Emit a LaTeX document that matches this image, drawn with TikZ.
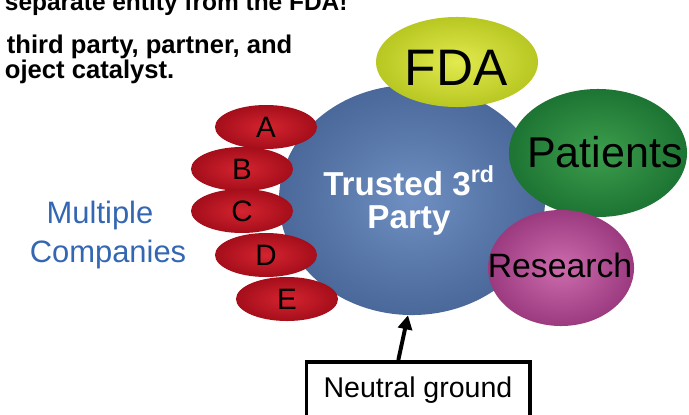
\documentclass[tikz,border=0pt]{standalone}
\usepackage{fontspec}
\setmainfont{Liberation Sans}
\usetikzlibrary{shapes.geometric,arrows.meta}
\definecolor{partyin}{HTML}{6F8FC2}
\definecolor{partyout}{HTML}{4A6899}
\definecolor{fdain}{HTML}{E2EA4E}
\definecolor{fdaout}{HTML}{B8C722}
\definecolor{patin}{HTML}{3C9E4C}
\definecolor{patout}{HTML}{1D7433}
\definecolor{resin}{HTML}{CC6CAC}
\definecolor{resout}{HTML}{9C3A80}
\definecolor{redin}{HTML}{D42430}
\definecolor{redout}{HTML}{A40E1A}
\definecolor{compblue}{HTML}{3467B2}

\begin{document}
\begin{tikzpicture}[x=0.025cm, y=-0.025cm,
  blob/.style={ellipse, inner sep=0pt},
  company/.style={blob, minimum width=2.55cm, minimum height=1.1cm,
    inner color=redin, outer color=redout, font=\fontsize{21}{21}\selectfont},
  headline/.style={anchor=base west, font=\bfseries\fontsize{18.2}{18.2}\selectfont}]
\useasboundingbox (0,0) rectangle (689,414);
\clip (0,0) rectangle (689,414);

% Slide text, cut off at the top
\node[headline, font=\bfseries\fontsize{17.4}{17.4}\selectfont] (line1) at (0,10) {separate entity from the FDA!};
\node[headline] (line2) at (2,53) {third party, partner, and};
\node[headline] (line3) at (0,78) {oject catalyst.};

% Trusted 3rd party in the middle
\node[blob, minimum width=6.65cm, minimum height=5.75cm, inner color=partyin, outer color=partyout] (party) at (412,200) {};
\node[anchor=base, text=white, font=\bfseries\fontsize{23.6}{23.6}\selectfont] (trusted) at (409,195) {Trusted 3\textsuperscript{rd}};
\node[anchor=base, text=white, font=\bfseries\fontsize{23.6}{23.6}\selectfont] (partytxt) at (409,228) {Party};

% Companies A to E
\foreach \l/\x/\y in {A/266/127, B/242/169, C/242/211, D/266/255, E/287/299} {
    \node[company] (co\l) at (\x,\y) {\l};
}
\node[anchor=base, text=compblue, font=\fontsize{22}{22}\selectfont] (multiple) at (100,223) {Multiple};
\node[anchor=base, text=compblue, font=\fontsize{22}{22}\selectfont] (companies) at (108,262) {Companies};

% FDA, patients, research
\node[blob, minimum width=4.05cm, minimum height=2.25cm, inner color=fdain, outer color=fdaout] (fda) at (457,62) {};
\node[anchor=base, font=\fontsize{36.5}{36.5}\selectfont] (fdatxt) at (456,85) {FDA};
\node[blob, minimum width=4.45cm, minimum height=3.2cm, inner color=patin, outer color=patout] (patients) at (598,153) {};
\node[anchor=base, font=\fontsize{30.6}{30.6}\selectfont] (pattxt) at (605,167) {Patients};
\node[blob, minimum width=3.65cm, minimum height=2.9cm, inner color=resin, outer color=resout] (research) at (561,268) {};
\node[anchor=base, font=\fontsize{24}{24}\selectfont] (restxt) at (560,277) {Research};

% Neutral ground
\node[draw, line width=2.8pt, fill=white, minimum width=5.575cm, minimum height=1.4cm,
  font=\fontsize{20.3}{20.3}\selectfont] (ground) at (418,390) {Neutral ground};
\draw[line width=2.8pt, -{Triangle[length=10pt, width=10pt]}] ([xshift=-14pt]ground.north) -- (party.268);
\end{tikzpicture}
\end{document}
